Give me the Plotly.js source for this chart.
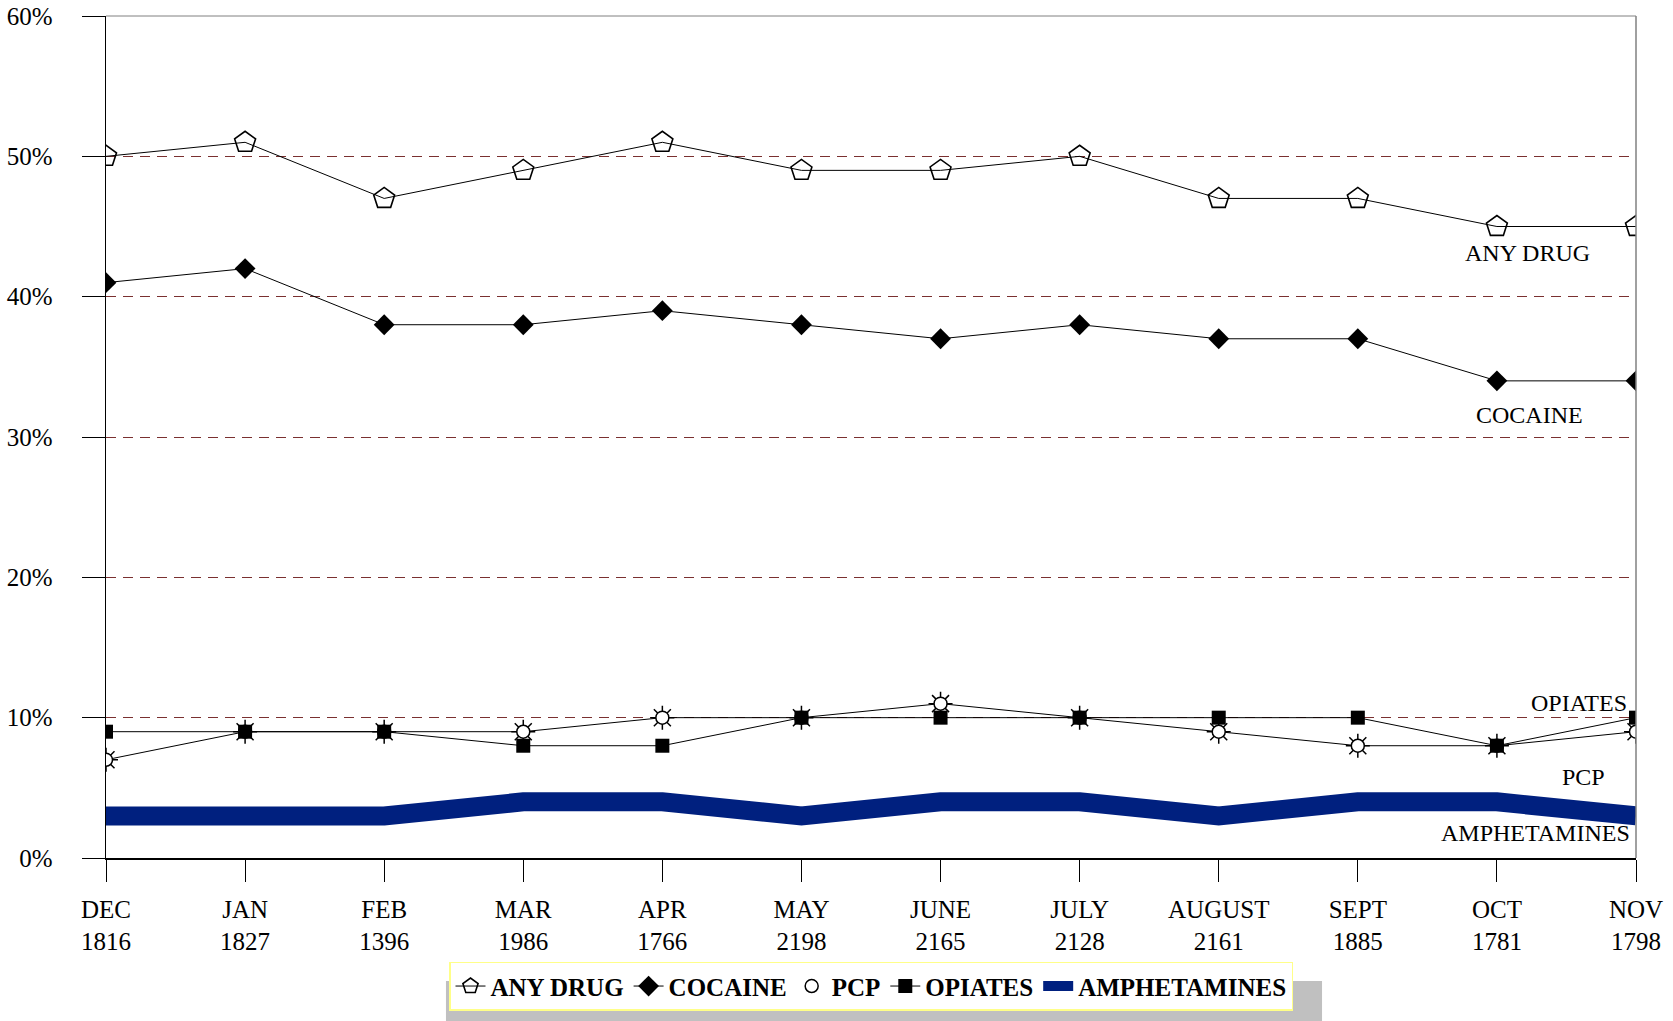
<!DOCTYPE html>
<html>
<head>
<meta charset="utf-8">
<script src="https://cdn.plot.ly/plotly-3.0.1.min.js"></script>
<style>html,body{margin:0;padding:0;background:#fff;}#chart{width:1673px;height:1021px;}</style>
</head>
<body>
<div id="chart"></div>
<script>
const months = ["DEC","JAN","FEB","MAR","APR","MAY","JUNE","JULY","AUGUST","SEPT","OCT","NOV"];
const counts = ["1816","1827","1396","1986","1766","2198","2165","2128","2161","1885","1781","1798"];
const anyDrug = [50,51,47,49,51,49,49,50,47,47,45,45];
const cocaine = [41,42,38,38,39,38,37,38,37,37,34,34];
const pcp = [7,9,9,9,10,10,11,10,9,8,8,9];
const opiates = [9,9,9,8,8,10,10,10,10,10,8,10];
const amphetamines = [3,3,3,4,4,3,4,4,3,4,4,3];
const seriesLabels = ["ANY DRUG","COCAINE","PCP","OPIATES","AMPHETAMINES"];
const labelPos = [[0.9288,43.1],[0.9301,31.6],[0.9654,5.77],[0.9627,11.05],[0.9346,1.78]];

const cats = months.map((m,i)=>m+"<br>"+counts[i]);
const FONT = "Liberation Serif, Times New Roman, serif";

const traces = [
  {x:cats,y:anyDrug,name:"ANY DRUG",type:"scatter",mode:"lines+markers",
   line:{color:"#000",width:1},
   marker:{symbol:"pentagon-open",size:22,color:"#000",line:{width:1.6,color:"#000"}}},
  {x:cats,y:cocaine,name:"COCAINE",type:"scatter",mode:"lines+markers",
   line:{color:"#000",width:1},
   marker:{symbol:"diamond",size:16,color:"#000"}},
  {x:cats,y:pcp,name:"PCP",type:"scatter",mode:"lines",legendgroup:"pcp",showlegend:false,
   line:{color:"#000",width:1}},
  {x:cats,y:pcp,name:"PCP",type:"scatter",mode:"markers",legendgroup:"pcp",showlegend:false,
   marker:{symbol:"asterisk-open",size:20,color:"#000",line:{width:1.5,color:"#000"}}},
  {x:cats,y:pcp,name:"PCP",type:"scatter",mode:"markers",legendgroup:"pcp",
   marker:{symbol:"circle",size:13,color:"#fff",line:{width:1.5,color:"#000"}}},
  {x:cats,y:opiates,name:"OPIATES",type:"scatter",mode:"lines+markers",
   line:{color:"#000",width:1},
   marker:{symbol:"square",size:14,color:"#000"}},
  {x:cats,y:amphetamines,name:"AMPHETAMINES",type:"scatter",mode:"lines",
   line:{color:"#00207f",width:19}}
];

const annotations = seriesLabels.map((t,i)=>({
  text:t, xref:"paper", yref:"y", x:labelPos[i][0], y:labelPos[i][1],
  showarrow:false, xanchor:"center", yanchor:"middle",
  font:{family:FONT,size:24,color:"#000"}
}));

const layout = {
  width:1673, height:1021,
  margin:{l:106,r:37,t:16,b:163,pad:0,autoexpand:false},
  paper_bgcolor:"#fff", plot_bgcolor:"#fff",
  font:{family:FONT,color:"#000"},
  showlegend:true,
  xaxis:{type:"category",range:[0,11],showgrid:false,zeroline:false,automargin:false,
    showline:true,linecolor:"#000",linewidth:1.5,
    ticks:"outside",ticklen:22,tickcolor:"#000",tickwidth:1,
    tickfont:{family:FONT,size:25,color:"#000"},ticklabelstandoff:6},
  yaxis:{range:[0,60],dtick:10,ticksuffix:"%",automargin:false,
    showgrid:true,gridcolor:"#7a3030",griddash:"10px,7px",gridwidth:1,
    zeroline:true,zerolinecolor:"#000",zerolinewidth:1.5,
    showline:true,linecolor:"#000",linewidth:1.5,
    ticks:"outside",ticklen:23,tickcolor:"#000",tickwidth:1,
    tickfont:{family:FONT,size:25,color:"#000"},ticklabelstandoff:24},
  legend:{orientation:"h",x:0.5,xanchor:"center",yref:"container",y:0.058,yanchor:"top",
    bgcolor:"#fff",bordercolor:"#ffff88",borderwidth:1.5,
    font:{family:FONT,size:25,color:"#000",weight:"bold"},
    itemwidth:30,tracegroupgap:0,traceorder:"normal"},
  shapes:[
    {type:"line",xref:"paper",yref:"paper",x0:1,x1:1,y0:0,y1:1,line:{color:"#808080",width:1.5}},
    {type:"line",xref:"paper",yref:"paper",x0:0,x1:1,y0:1,y1:1,line:{color:"#808080",width:1}},
    {type:"rect",xref:"paper",yref:"paper",x0:0.2222,x1:0.7948,y0:-0.2,y1:-0.1461,
     fillcolor:"#c0c0c0",line:{width:0},layer:"above"}
  ],
  annotations:annotations
};

Plotly.newPlot("chart",traces,layout,{staticPlot:true,displayModeBar:false});
</script>
</body>
</html>
